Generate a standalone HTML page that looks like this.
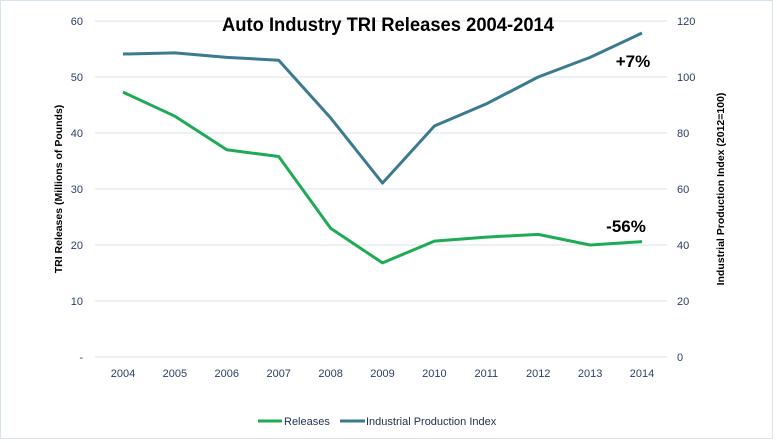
<!DOCTYPE html>
<html><head><meta charset="utf-8"><style>
body{margin:0;background:#fff;}
svg{display:block;font-family:"Liberation Sans",sans-serif;}
</style></head><body>
<svg id="chart" width="777" height="443" viewBox="0 0 777 443">
<rect x="0.5" y="0.5" width="772" height="438" fill="#fff" stroke="#d6e3ec"/>
<g id="grid"></g>
<g id="axes"></g>
<g id="series"></g>
<text x="388" y="31" text-anchor="middle" font-size="19" font-weight="bold" fill="#000" textLength="332" lengthAdjust="spacingAndGlyphs">Auto Industry TRI Releases 2004-2014</text>
<text transform="translate(62,189) rotate(-90)" text-anchor="middle" font-size="10.5" font-weight="bold" fill="#000">TRI  Releases (Millions of Pounds)</text>
<text transform="translate(724,189) rotate(-90)" text-anchor="middle" font-size="10.5" font-weight="bold" fill="#000">Industrial Production Index (2012=100)</text>
<text x="633" y="67" text-anchor="middle" font-size="17" font-weight="bold" fill="#000">+7%</text>
<text x="626" y="232" text-anchor="middle" font-size="17" font-weight="bold" fill="#000">-56%</text>
<g>
<line x1="258" y1="421" x2="282" y2="421" stroke="#1faa55" stroke-width="3"/>
<text x="284" y="425" font-size="11" fill="#1f2f4f">Releases</text>
<line x1="340" y1="421" x2="365" y2="421" stroke="#3b7a8f" stroke-width="3"/>
<text x="366" y="425" font-size="11" fill="#1f2f4f">Industrial Production Index</text>
</g>
</svg>
<script>
const years=["2004","2005","2006","2007","2008","2009","2010","2011","2012","2013","2014"];
const releases=[47.3,43,37,35.8,23,16.8,20.7,21.4,21.9,20,20.6];
const prodIndex=[108.2,108.6,107,106,85.4,62.1,82.5,90.4,100,107,115.7];
const leftTicks=[0,10,20,30,40,50,60];
const leftTickLabels=["-","10","20","30","40","50","60"];
const rightTicks=[0,20,40,60,80,100,120];
const NS="http://www.w3.org/2000/svg";
const x0=123,dx=51.9,yTop=21,yBot=357;
function xs(i){return x0+i*dx;}
function yl(v){return yBot-(v/60)*(yBot-yTop);}
function yr(v){return yBot-(v/120)*(yBot-yTop);}
function mk(tag,a,parent){const e=document.createElementNS(NS,tag);for(const k in a)e.setAttribute(k,a[k]);parent.appendChild(e);return e;}
const grid=document.getElementById('grid'),axes=document.getElementById('axes'),ser=document.getElementById('series');
leftTicks.forEach((t,i)=>{
  const l=mk('line',{x1:95,x2:667,y1:yl(t),y2:yl(t),stroke:'#d9e3ee','stroke-width':1},grid);
  
  
  const tx=mk('text',{x:83,y:yl(t)+4,'text-anchor':'end','font-size':11,fill:'#2a3f66'},axes);
  tx.textContent=leftTickLabels[i];
  
  
});
rightTicks.forEach(t=>{
  const tx=mk('text',{x:677,y:yr(t)+4,'font-size':11,fill:'#2a3f66'},axes);
  tx.textContent=t;
  
  
});
years.forEach((y,i)=>{
  const tx=mk('text',{x:xs(i),y:377,'text-anchor':'middle','font-size':11,fill:'#2a3f66'},axes);
  tx.textContent=y;
  
  
});
const p1=mk('polyline',{points:prodIndex.map((v,i)=>xs(i)+','+yr(v)).join(' '),fill:'none',stroke:'#3b7a8f','stroke-width':3,'stroke-linejoin':'round'},ser);


const p2=mk('polyline',{points:releases.map((v,i)=>xs(i)+','+yl(v)).join(' '),fill:'none',stroke:'#1faa55','stroke-width':3,'stroke-linejoin':'round'},ser);


</script>
</body></html>
